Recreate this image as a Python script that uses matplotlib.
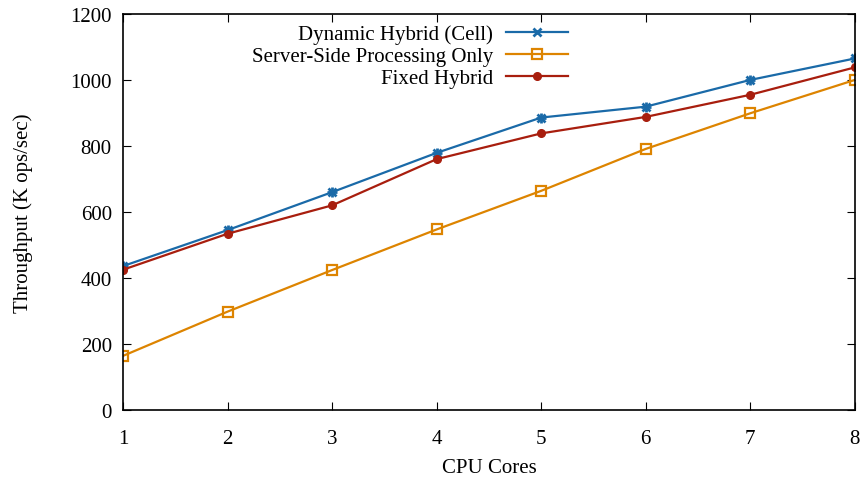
import matplotlib
matplotlib.use('Agg')
import matplotlib.pyplot as plt

plt.rcParams['font.family'] = ['Liberation Serif', 'DejaVu Serif']

cores = [1, 2, 3, 4, 5, 6, 7, 8]
dynamic_hybrid = [436, 545, 660, 779, 886, 919, 1000, 1065]
server_only = [164, 298, 424, 547, 664, 791, 899, 1000]
fixed_hybrid = [425, 534, 620, 760, 838, 888, 955, 1038]

fig = plt.figure(figsize=(8.6, 4.81), dpi=100)
ax = fig.add_axes([0.143, 0.1455, 0.851, 0.8235])

ax.plot(cores, dynamic_hybrid, color='#1a6aa8', lw=1.6, marker='x', ms=6, mew=2,
        label='Dynamic Hybrid (Cell)')
ax.plot(cores, dynamic_hybrid, color='#1a6aa8', lw=0, marker='+', ms=7, mew=2)
ax.plot(cores, server_only, color='#dd8400', lw=1.6, marker='s', ms=7, mfc='none', mew=1.6,
        label='Server-Side Processing Only')
ax.plot(cores, fixed_hybrid, color='#a81e0e', lw=1.6, marker='o', ms=5.5,
        label='Fixed Hybrid')

ax.set_xlim(1, 8)
ax.set_ylim(0, 1200)
ax.set_xticks(cores)
ax.set_yticks(range(0, 1201, 200))
ax.tick_params(direction='in', top=True, right=True, length=6, labelsize=15)
ax.tick_params(axis='x', pad=14)
ax.tick_params(axis='y', pad=8)
for s in ax.spines.values():
    s.set_linewidth(1.2)

ax.set_xlabel('CPU Cores', fontsize=15, labelpad=7)
ax.set_ylabel('Throughput (K ops/sec)', fontsize=15, labelpad=27)

ax.legend(loc='upper right', bbox_to_anchor=(0.634, 1.02), frameon=False, markerfirst=False,
          fontsize=15, handlelength=3.0, labelspacing=0.1, handletextpad=0.6)

fig.savefig('out.png', dpi=100)
